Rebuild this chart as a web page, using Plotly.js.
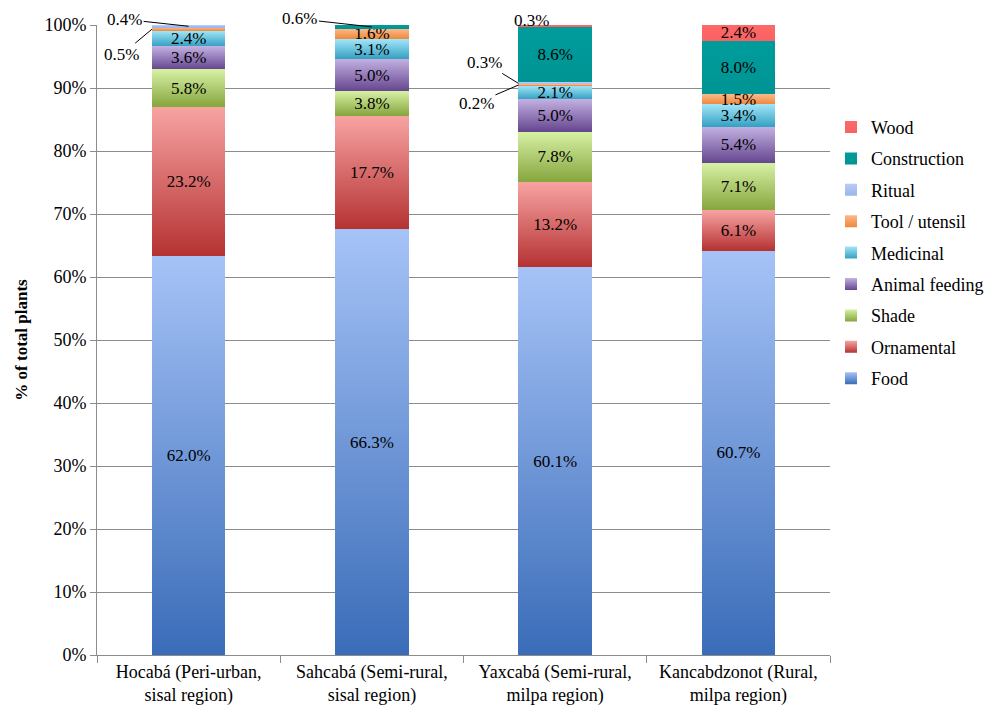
<!DOCTYPE html>
<html>
<head>
<meta charset="utf-8">
<script src="https://cdn.plot.ly/plotly-3.0.1.min.js"></script>
<style>html,body{margin:0;padding:0;background:#fff}</style>
</head>
<body>
<div id="chart" style="width:1000px;height:710px"></div>
<script>
// ---- data ----
const categories = [
  "Hocabá (Peri-urban,<br>sisal region)",
  "Sahcabá (Semi-rural,<br>sisal region)",
  "Yaxcabá (Semi-rural,<br>milpa region)",
  "Kancabdzonot (Rural,<br>milpa region)"
];
const seriesNames = ["Food", "Ornamental", "Shade", "Animal feeding", "Medicinal", "Tool / utensil", "Ritual", "Construction", "Wood"];
const food          = [62.0, 66.3, 60.1, 60.7];
const ornamental    = [23.2, 17.7, 13.2, 6.1];
const shade         = [5.8, 3.8, 7.8, 7.1];
const animalFeeding = [3.6, 5.0, 5.0, 5.4];
const medicinal     = [2.4, 3.1, 2.1, 3.4];
const toolUtensil   = [0.5, 1.6, 0.2, 1.5];
const ritual        = [0.4, 0.0, 0.3, 0.0];
const construction  = [0.0, 0.6, 8.6, 8.0];
const wood          = [0.0, 0.0, 0.3, 2.4];
const yTickLabels   = ["0%","10%","20%","30%","40%","50%","60%","70%","80%","90%","100%"];

// ---- styles ----
const seriesValues = [food, ornamental, shade, animalFeeding, medicinal, toolUtensil, ritual, construction, wood];
const colors = ["#6f96d8", "#d96c6c", "#afcc72", "#947bbb", "#6cc3de", "#f6a060", "#a9c1ee", "#009999", "#fa6464"];
// vertical gradient per series: [bottom, top]
const gradients = [
  ["#3a6cb8", "#a6c3f7"],
  ["#b53232", "#f8a3a3"],
  ["#86a63e", "#d7f1a4"],
  ["#65468f", "#c3b1e2"],
  ["#34a0c1", "#a2e5f9"],
  ["#f0873a", "#fbb98a"],
  ["#9ab5ea", "#b8cdf5"],
  ["#009494", "#009c9c"],
  ["#fa6262", "#ff6868"]
];
const FONT = 'Liberation Serif, Times New Roman, Times, serif';

const traces = seriesValues.map((vals, i) => ({
  type: 'bar',
  name: seriesNames[i],
  x: categories,
  y: vals,
  legendgroup: 'g' + i,
  legendrank: seriesValues.length - i,
  marker: {color: colors[i], line: {width: 0}},
  text: vals.map(v => v >= 1 ? v.toFixed(1) + '%' : ''),
  textposition: 'inside',
  insidetextanchor: 'middle',
  constraintext: 'none',
  textangle: 0,
  textfont: {family: FONT, size: 17, color: '#000'},
  hoverinfo: 'name+y'
}));

// normalized positions for small-value call-outs
const totals = categories.map((c, k) => seriesValues.reduce((s, arr) => s + arr[k], 0));
function midPct(seriesIdx, k) {
  let below = 0;
  for (let i = 0; i < seriesIdx; i++) below += seriesValues[i][k];
  return (below + seriesValues[seriesIdx][k] / 2) / totals[k] * 100;
}
const callouts = [
  {s: 6, k: 0, dx: 0,    ax: -64, ay: -7},
  {s: 5, k: 0, dx: -0.2, ax: -30, ay: 25},
  {s: 7, k: 1, dx: 0,    ax: -72, ay: -8},
  {s: 6, k: 2, dx: -0.2, ax: -34, ay: -21},
  {s: 5, k: 2, dx: -0.2, ax: -42, ay: 18},
];
const annotations = callouts.map(c => ({
  x: c.k + c.dx, y: midPct(c.s, c.k), xref: 'x', yref: 'y',
  text: seriesValues[c.s][c.k].toFixed(1) + '%',
  showarrow: true, arrowhead: 0, arrowwidth: 1, arrowcolor: '#000',
  ax: c.ax, ay: c.ay, standoff: 0,
  font: {family: FONT, size: 17, color: '#000'}
}));
// Yaxcabá wood, written above the bar
annotations.push({
  x: 2, y: 100, xref: 'x', yref: 'y', yanchor: 'bottom',
  text: wood[2].toFixed(1) + '%', showarrow: false, xshift: -24, yshift: -7,
  font: {family: FONT, size: 17, color: '#000'}
});

const layout = {
  width: 1000, height: 710,
  margin: {l: 97, r: 169, t: 25, b: 55},
  paper_bgcolor: '#fff', plot_bgcolor: '#fff',
  barmode: 'stack', barnorm: 'percent', bargap: 0.6,
  uniformtext: {mode: false},
  font: {family: FONT, size: 18, color: '#000'},
  xaxis: {
    type: 'category', showline: true, linecolor: '#8c8c8c', linewidth: 1,
    ticks: 'outside', tickson: 'boundaries', ticklen: 7, tickcolor: '#8c8c8c',
    showgrid: false, tickfont: {family: FONT, size: 18, color: '#000'}
  },
  yaxis: {
    range: [0, 100], tickvals: yTickLabels.map((t, i) => i * 10), ticktext: yTickLabels,
    showline: true, linecolor: '#8c8c8c', linewidth: 1,
    ticks: 'outside', ticklen: 6, tickcolor: '#8c8c8c',
    showgrid: true, gridcolor: '#8c8c8c', gridwidth: 1, zeroline: false,
    tickfont: {family: FONT, size: 18, color: '#000'},
    title: {text: '<b>% of total plants</b>', font: {family: FONT, size: 17, color: '#000'}, standoff: 12}
  },
  legend: {
    x: 1.0, xanchor: 'left', y: 0.867, yanchor: 'top',
    traceorder: 'grouped', tracegroupgap: 5,
    font: {family: FONT, size: 18, color: '#000'},
    bgcolor: 'rgba(0,0,0,0)'
  },
  annotations: annotations,
  showlegend: true
};

function applyGradients(gd) {
  const svg = gd.querySelector('svg.main-svg');
  const NS = 'http://www.w3.org/2000/svg';
  let defs = svg.querySelector('defs');
  if (!defs) { defs = document.createElementNS(NS, 'defs'); svg.insertBefore(defs, svg.firstChild); }
  gradients.forEach((g, i) => {
    const lg = document.createElementNS(NS, 'linearGradient');
    lg.setAttribute('id', 'segGrad' + i);
    lg.setAttribute('x1', '0'); lg.setAttribute('y1', '1');
    lg.setAttribute('x2', '0'); lg.setAttribute('y2', '0');
    [[0, g[0]], [1, g[1]]].forEach(([off, col]) => {
      const st = document.createElementNS(NS, 'stop');
      st.setAttribute('offset', off);
      st.setAttribute('stop-color', col);
      lg.appendChild(st);
    });
    defs.appendChild(lg);
  });
  gd.querySelectorAll('.barlayer .trace.bars').forEach(tr => {
    const d = tr.__data__;
    const idx = d && d[0] && d[0].trace ? d[0].trace.index : null;
    if (idx == null) return;
    tr.querySelectorAll('.point path').forEach(p => { p.style.fill = 'url(#segGrad' + idx + ')'; });
  });
  gd.querySelectorAll('.legend .traces').forEach(tr => {
    const d = tr.__data__;
    const t = d && d[0] && d[0].trace;
    if (!t) return;
    tr.querySelectorAll('.legendpoints path').forEach(p => { p.style.fill = 'url(#segGrad' + t.index + ')'; });
  });
}

Plotly.newPlot('chart', traces, layout, {displayModeBar: false, staticPlot: true})
  .then(gd => applyGradients(gd));
</script>
</body>
</html>
